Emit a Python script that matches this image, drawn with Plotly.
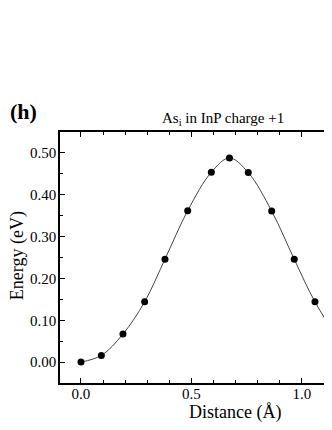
import plotly.graph_objects as go

# NEB path, As_i in InP, charge +1
distance = [0.0, 0.092, 0.19, 0.288, 0.38, 0.483, 0.59, 0.672, 0.757, 0.863,
            0.965, 1.059, 1.154, 1.252, 1.344]
energy = [0.0, 0.016, 0.067, 0.144, 0.246, 0.362, 0.454, 0.488, 0.453, 0.361,
          0.246, 0.144, 0.067, 0.016, 0.0]

x_ticks = [0.0, 0.5, 1.0]
x_ticktext = ["0.0", "0.5", "1.0"]
y_ticks = [0.0, 0.1, 0.2, 0.3, 0.4, 0.5]
y_ticktext = ["0.00", "0.10", "0.20", "0.30", "0.40", "0.50"]

serif = "Liberation Serif, Times New Roman, serif"

# the page body has an 8px margin, so the figure sits 8px in from the corner
OFF = 8
W, H = 332 - OFF, 430 - OFF
ML, MT, MB, MR = 60 - OFF, 131.5 - OFF, 430 - 383, 0

fig = go.Figure()
fig.add_trace(go.Scatter(
    x=distance, y=energy,
    mode="lines",
    line=dict(color="#444444", width=1, shape="spline", smoothing=1.0),
    hoverinfo="skip",
))
fig.add_trace(go.Scatter(
    x=distance, y=energy,
    mode="markers",
    marker=dict(color="black", size=7),
))

fig.update_layout(
    width=W, height=H,
    margin=dict(l=ML, r=MR, t=MT, b=MB, autoexpand=False),
    paper_bgcolor="white", plot_bgcolor="white",
    showlegend=False,
    font=dict(family=serif, size=15, color="black"),
    xaxis=dict(
        range=[-0.095, 1.136],
        tickvals=x_ticks, ticktext=x_ticktext,
        ticks="inside", ticklen=5, tickwidth=1, tickcolor="black",
        minor=dict(dtick=0.1, ticks="inside", ticklen=3, tickcolor="black"),
        showline=True, linecolor="black", linewidth=1.5,
        mirror="ticks", showgrid=False, zeroline=False,
        ticklabelstandoff=-4,
    ),
    yaxis=dict(
        range=[-0.05, 0.55],
        tickvals=y_ticks, ticktext=y_ticktext,
        ticks="inside", ticklen=5, tickwidth=1, tickcolor="black",
        minor=dict(dtick=0.05, ticks="inside", ticklen=3, tickcolor="black"),
        showline=True, linecolor="black", linewidth=1.5,
        mirror=False, showgrid=False, zeroline=False,
        ticklabelstandoff=-1,
    ),
)

# text placed by screen pixel position
labels = [
    ("<b>(h)</b>", 8, 111, 22, 0, "left"),
    ("As<sub>i</sub> in InP charge +1", 223, 118, 15, 0, "center"),
    ("Distance (Å)", 235, 413, 18, 0, "center"),
    ("Energy (eV)", 17, 256, 18, -90, "center"),
]
pw, ph = W - ML - MR, H - MT - MB
for text, sx, sy, size, ang, xa in labels:
    fx, fy = sx - OFF, sy - OFF
    fig.add_annotation(
        text=text, xref="paper", yref="paper",
        x=(fx - ML) / pw, y=(H - MB - fy) / ph,
        showarrow=False, textangle=ang,
        font=dict(family=serif, size=size),
        xanchor=xa, yanchor="middle",
    )

fig.write_html("out.html")
